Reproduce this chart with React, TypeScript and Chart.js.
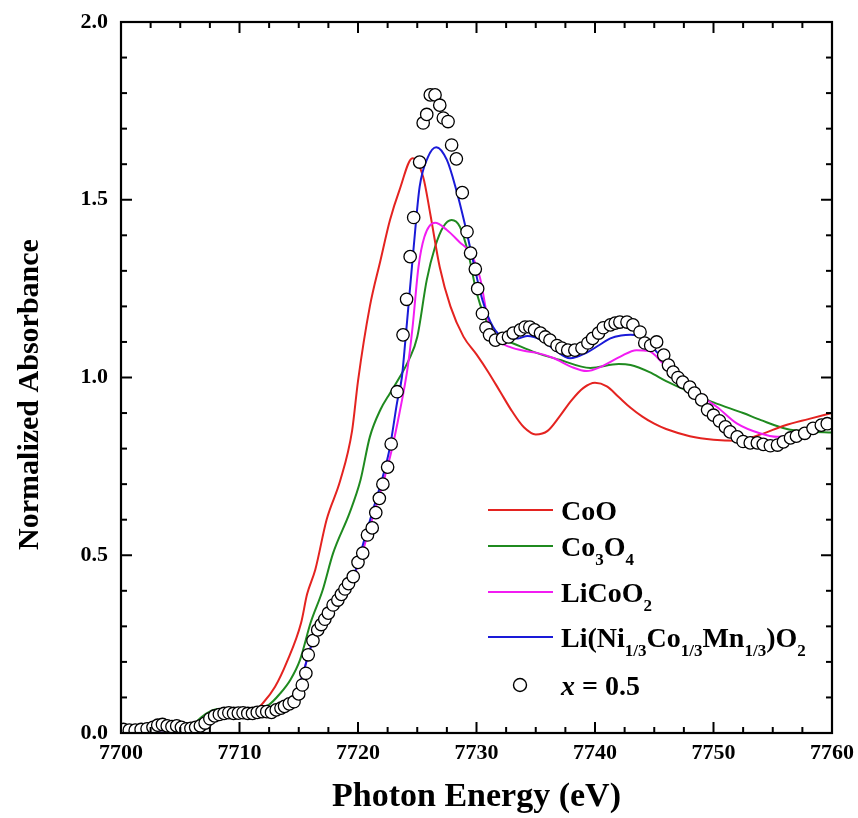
import React, { useEffect, useRef } from "react";
import { Chart, registerables } from "chart.js";

Chart.register(...registerables);

const FONT = "'Liberation Serif', 'Times New Roman', serif";

// ---- axis ticks ----
const xTickValues = [7700, 7710, 7720, 7730, 7740, 7750, 7760];
const yTickValues = [0, 0.5, 1.0, 1.5, 2.0];
const xMinorStep = 2.5;
const yMinorStep = 0.1;
const xTitle = "Photon Energy (eV)";
const yTitle = "Normalized Absorbance";

// ---- CoO ----
const cooE = [7700, 7703, 7706, 7707.5, 7709, 7711, 7712, 7713, 7714, 7715.2, 7715.7, 7716.4, 7717.35, 7718.5, 7719.5, 7720, 7721, 7721.9, 7722.7, 7723.5, 7724.6, 7725.5, 7726.1, 7726.9, 7727.8, 7728.9, 7730, 7731, 7732, 7733, 7734, 7735, 7736, 7737, 7738, 7739, 7740, 7741, 7742, 7743, 7744, 7745, 7746, 7748, 7750, 7752, 7754, 7756, 7758, 7760];
const cooA = [0.005, 0.008, 0.012, 0.03, 0.045, 0.055, 0.085, 0.13, 0.2, 0.31, 0.39, 0.46, 0.6, 0.71, 0.85, 0.99, 1.2, 1.33, 1.443, 1.527, 1.617, 1.564, 1.46, 1.31, 1.2, 1.115, 1.065, 1.015, 0.96, 0.905, 0.86, 0.84, 0.85, 0.89, 0.935, 0.97, 0.985, 0.975, 0.945, 0.915, 0.89, 0.87, 0.855, 0.835, 0.825, 0.822, 0.84, 0.865, 0.883, 0.9];

// ---- Co3O4 ----
const co3o4E = [7700, 7704, 7706, 7706.8, 7707.8, 7709, 7711, 7712.5, 7713.4, 7714.3, 7715.1, 7716, 7717, 7717.9, 7719.3, 7720.2, 7721, 7721.9, 7722.7, 7723.5, 7724.3, 7725, 7725.8, 7726.5, 7727.2, 7727.9, 7728.6, 7729.3, 7730, 7730.7, 7731.5, 7732, 7733, 7735, 7737, 7739.6, 7742, 7743, 7744.6, 7746, 7748.3, 7750, 7752.5, 7754, 7756.2, 7758, 7760];
const co3o4A = [0.005, 0.008, 0.02, 0.045, 0.065, 0.068, 0.065, 0.08, 0.11, 0.15, 0.205, 0.31, 0.4, 0.506, 0.62, 0.71, 0.833, 0.91, 0.956, 1.0, 1.05, 1.114, 1.274, 1.367, 1.424, 1.443, 1.424, 1.35, 1.24, 1.17, 1.12, 1.11, 1.097, 1.07, 1.05, 1.027, 1.038, 1.035, 1.015, 0.99, 0.955, 0.93, 0.9, 0.88, 0.855, 0.848, 0.845];

// ---- LiCoO2 ----
const licoo2E = [7700, 7706, 7708, 7711, 7713, 7714, 7715, 7716, 7717, 7718, 7719, 7720, 7721, 7722, 7722.8, 7723.5, 7724.2, 7724.6, 7725.1, 7725.6, 7726.5, 7727.5, 7728.6, 7729.5, 7730.3, 7731, 7732, 7732.8, 7734, 7735, 7736.5, 7738, 7739.3, 7740.5, 7742.1, 7743.5, 7744.5, 7746, 7748, 7750.3, 7752, 7753.9, 7755.4, 7757, 7758.5, 7760];
const licoo2A = [0.005, 0.015, 0.05, 0.055, 0.065, 0.08, 0.13, 0.24, 0.32, 0.37, 0.41, 0.47, 0.58, 0.69, 0.79, 0.9, 1.03, 1.14, 1.31, 1.395, 1.435, 1.415, 1.38, 1.35, 1.28, 1.16, 1.1, 1.086, 1.075, 1.07, 1.055, 1.03, 1.018, 1.03, 1.058, 1.077, 1.075, 1.03, 0.97, 0.917, 0.87, 0.843, 0.833, 0.835, 0.85, 0.865];

// ---- Li(Ni1/3Co1/3Mn1/3)O2 ----
const nmcE = [7700, 7706, 7708, 7711, 7713, 7714, 7715, 7716, 7717, 7718, 7719, 7719.5, 7720, 7720.5, 7721.2, 7722, 7722.7, 7723.3, 7723.7, 7724, 7724.7, 7725.2, 7725.9, 7726.6, 7727.5, 7728.3, 7729, 7729.7, 7730.5, 7731.4, 7732.3, 7733.5, 7734.3, 7735.5, 7736.5, 7737.9, 7739.3, 7740.3, 7741.3, 7742.2, 7743, 7744.1, 7745, 7746, 7747, 7748, 7749, 7750, 7751, 7752, 7753, 7754, 7755, 7756, 7757, 7758, 7759, 7760];
const nmcA = [0.005, 0.015, 0.05, 0.055, 0.065, 0.08, 0.13, 0.24, 0.32, 0.37, 0.41, 0.43, 0.48, 0.54, 0.62, 0.71, 0.805, 0.93, 1.0, 1.105, 1.367, 1.536, 1.62, 1.648, 1.612, 1.527, 1.434, 1.33, 1.218, 1.142, 1.114, 1.11, 1.117, 1.105, 1.08, 1.054, 1.07, 1.09, 1.11, 1.118, 1.12, 1.11, 1.08, 1.04, 1.0, 0.97, 0.935, 0.895, 0.86, 0.832, 0.818, 0.812, 0.81, 0.815, 0.83, 0.845, 0.86, 0.87];

// ---- x = 0.5 sample (open circles) ----
const sampleE = [7700.2, 7700.7, 7701.2, 7701.7, 7702.2, 7702.7, 7703.1, 7703.5, 7703.9, 7704.3, 7704.7, 7705.1, 7705.5, 7705.9, 7706.3, 7706.7, 7707.1, 7707.5, 7707.9, 7708.3, 7708.7, 7709.1, 7709.5, 7709.9, 7710.3, 7710.7, 7711.1, 7711.5, 7711.9, 7712.3, 7712.7, 7713.1, 7713.5, 7713.8, 7714.2, 7714.6, 7715.0, 7715.3, 7715.6, 7715.8, 7716.2, 7716.6, 7716.9, 7717.2, 7717.5, 7717.9, 7718.3, 7718.6, 7718.9, 7719.2, 7719.6, 7720.0, 7720.4, 7720.8, 7721.2, 7721.5, 7721.8, 7722.1, 7722.5, 7722.8, 7723.3, 7723.8, 7724.1, 7724.4, 7724.7, 7725.2, 7725.5, 7725.8, 7726.1, 7726.5, 7726.9, 7727.2, 7727.6, 7727.9, 7728.3, 7728.8, 7729.2, 7729.5, 7729.9, 7730.1, 7730.5, 7730.8, 7731.1, 7731.6, 7732.2, 7732.7, 7733.1, 7733.7, 7734.1, 7734.5, 7734.9, 7735.4, 7735.8, 7736.2, 7736.8, 7737.2, 7737.7, 7738.3, 7738.9, 7739.4, 7739.8, 7740.3, 7740.7, 7741.3, 7741.7, 7742.1, 7742.7, 7743.2, 7743.8, 7744.2, 7744.7, 7745.2, 7745.8, 7746.2, 7746.6, 7747.0, 7747.4, 7748.0, 7748.4, 7749.0, 7749.5, 7750.0, 7750.5, 7751.0, 7751.4, 7752.0, 7752.5, 7753.1, 7753.7, 7754.2, 7754.8, 7755.4, 7755.9, 7756.5, 7757.0, 7757.7, 7758.4, 7759.1, 7759.6];
const sampleA = [0.01, 0.008, 0.008, 0.01, 0.012, 0.016, 0.022, 0.024, 0.02, 0.018, 0.02, 0.016, 0.012, 0.013, 0.016, 0.02, 0.028, 0.04, 0.048, 0.052, 0.055, 0.057, 0.055, 0.056, 0.057, 0.055, 0.055, 0.058, 0.06, 0.06, 0.058, 0.065, 0.07, 0.075, 0.082, 0.088, 0.11, 0.135, 0.168, 0.22, 0.26, 0.29, 0.305, 0.32, 0.337, 0.36, 0.374, 0.39, 0.405, 0.42, 0.44, 0.48, 0.506, 0.557, 0.577, 0.62, 0.66, 0.7, 0.748, 0.813, 0.96, 1.12, 1.22, 1.34, 1.45, 1.606, 1.716, 1.74, 1.795, 1.795, 1.766, 1.73, 1.72, 1.654, 1.615, 1.52, 1.41, 1.35, 1.305, 1.25, 1.18, 1.14, 1.12, 1.105, 1.11, 1.114, 1.125, 1.134, 1.142, 1.142, 1.134, 1.125, 1.114, 1.105, 1.09, 1.083, 1.077, 1.077, 1.083, 1.097, 1.11, 1.125, 1.14, 1.148, 1.153, 1.156, 1.156, 1.148, 1.128, 1.097, 1.09, 1.1, 1.063, 1.035, 1.015, 1.0, 0.987, 0.973, 0.956, 0.937, 0.909, 0.894, 0.878, 0.861, 0.847, 0.833, 0.82, 0.816, 0.816, 0.812, 0.808, 0.81, 0.819, 0.83, 0.835, 0.843, 0.857, 0.866, 0.87];

const seriesNames = ["CoO", "Co3O4", "LiCoO2", "Li(Ni1/3Co1/3Mn1/3)O2", "x = 0.5"];
const seriesColors = ["#e42320", "#1f8a1f", "#f21cf2", "#1a1ad8", "#000000"];

const toPts = (xs: number[], ys: number[]) => xs.map((x, i) => ({ x, y: ys[i] }));

type Part = { t: string; sub?: boolean; italic?: boolean };
const legendRows: Part[][] = [
  [{ t: "CoO" }],
  [{ t: "Co" }, { t: "3", sub: true }, { t: "O" }, { t: "4", sub: true }],
  [{ t: "LiCoO" }, { t: "2", sub: true }],
  [{ t: "Li(Ni" }, { t: "1/3", sub: true }, { t: "Co" }, { t: "1/3", sub: true }, { t: "Mn" }, { t: "1/3", sub: true }, { t: ")O" }, { t: "2", sub: true }],
  [{ t: "x", italic: true }, { t: " = 0.5" }],
];

const framePlugin = {
  id: "frameTicks",
  afterDatasetsDraw(chart: any) {
    const { ctx, chartArea: a, scales } = chart;
    const xs = scales.x;
    const ys = scales.y;
    ctx.save();
    ctx.strokeStyle = "#000";
    ctx.lineWidth = 2;
    ctx.lineCap = "butt";
    const seg = (x1: number, y1: number, x2: number, y2: number) => {
      ctx.beginPath();
      ctx.moveTo(x1, y1);
      ctx.lineTo(x2, y2);
      ctx.stroke();
    };
    const x0 = xTickValues[0];
    const x1 = xTickValues[xTickValues.length - 1];
    const nx = Math.round((x1 - x0) / xMinorStep);
    for (let i = 0; i <= nx; i++) {
      const v = x0 + i * xMinorStep;
      const major = xTickValues.some((t) => Math.abs(t - v) < 1e-6);
      const len = major ? 11 : 6;
      const px = xs.getPixelForValue(v);
      seg(px, a.bottom, px, a.bottom - len);
      seg(px, a.top, px, a.top + len);
    }
    const y0 = yTickValues[0];
    const y1 = yTickValues[yTickValues.length - 1];
    const ny = Math.round((y1 - y0) / yMinorStep);
    for (let i = 0; i <= ny; i++) {
      const v = y0 + i * yMinorStep;
      const major = yTickValues.some((t) => Math.abs(t - v) < 1e-6);
      const len = major ? 11 : 6;
      const py = ys.getPixelForValue(v);
      seg(a.left, py, a.left + len, py);
      seg(a.right, py, a.right - len, py);
    }
    ctx.lineWidth = 2.2;
    ctx.strokeRect(a.left, a.top, a.right - a.left, a.bottom - a.top);
    ctx.restore();
  },
};

const titlePlugin = {
  id: "yTitle",
  afterDraw(chart: any) {
    const { ctx, chartArea: a } = chart;
    ctx.save();
    ctx.translate(30, (a.top + a.bottom) / 2 + 17);
    ctx.rotate(-Math.PI / 2);
    ctx.font = `bold 30px ${FONT}`;
    ctx.fillStyle = "#000";
    ctx.textAlign = "center";
    ctx.textBaseline = "middle";
    ctx.fillText(yTitle, 0, 0);
    ctx.restore();
  },
};

const legendPlugin = {
  id: "richLegend",
  afterDraw(chart: any) {
    const { ctx, chartArea: a } = chart;
    const lineX0 = a.left + 367;
    const lineX1 = a.left + 432;
    const textX = a.left + 440;
    const rowY = [a.top + 488, a.top + 524, a.top + 570, a.top + 615, a.top + 663];
    ctx.save();
    const mainFont = (it?: boolean) => `${it ? "italic " : ""}bold 28px ${FONT}`;
    const subFont = `bold 17px ${FONT}`;
    legendRows.forEach((parts, i) => {
      const y = rowY[i];
      if (i < 4) {
        ctx.strokeStyle = seriesColors[i];
        ctx.lineWidth = 2;
        ctx.beginPath();
        ctx.moveTo(lineX0, y);
        ctx.lineTo(lineX1, y);
        ctx.stroke();
      } else {
        ctx.beginPath();
        ctx.arc(a.left + 399, y, 6.5, 0, Math.PI * 2);
        ctx.fillStyle = "#fff";
        ctx.fill();
        ctx.strokeStyle = "#000";
        ctx.lineWidth = 1.4;
        ctx.stroke();
      }
      let x = textX;
      const base = y + 10;
      ctx.fillStyle = "#000";
      ctx.textBaseline = "alphabetic";
      ctx.textAlign = "left";
      parts.forEach((p) => {
        ctx.font = p.sub ? subFont : mainFont(p.italic);
        const by = p.sub ? base + 9 : base;
        ctx.fillText(p.t, x, by);
        x += ctx.measureText(p.t).width;
      });
    });
    ctx.restore();
  },
};

export default function App() {
  const canvasRef = useRef<HTMLCanvasElement | null>(null);

  useEffect(() => {
    if (!canvasRef.current) return;
    const lineDs = (i: number, xs: number[], ys: number[], order: number) => ({
      label: seriesNames[i],
      data: toPts(xs, ys),
      borderColor: seriesColors[i],
      backgroundColor: seriesColors[i],
      borderWidth: 2,
      pointRadius: 0,
      cubicInterpolationMode: "monotone" as const,
      fill: false,
      order,
    });
    const chart = new Chart(canvasRef.current, {
      type: "line",
      data: {
        datasets: [
          {
            label: seriesNames[4],
            data: toPts(sampleE, sampleA),
            showLine: false,
            pointRadius: 6.2,
            pointBackgroundColor: "#ffffff",
            pointBorderColor: "#000000",
            pointBorderWidth: 1.3,
            order: 0,
          } as any,
          lineDs(3, nmcE, nmcA, 1),
          lineDs(2, licoo2E, licoo2A, 2),
          lineDs(0, cooE, cooA, 3),
          lineDs(1, co3o4E, co3o4A, 4),
        ],
      },
      options: {
        responsive: false,
        animation: false,
        layout: { padding: { left: 0, top: 22, right: 26, bottom: 0 } },
        plugins: { legend: { display: false }, tooltip: { enabled: false } },
        scales: {
          x: {
            type: "linear",
            min: 7700,
            max: 7760,
            grid: { display: false, drawTicks: false },
            border: { display: false },
            afterBuildTicks: (s: any) => {
              s.ticks = xTickValues.map((v) => ({ value: v }));
            },
            afterFit: (s: any) => {
              s.height = 85;
              s.paddingLeft = 0;
              s.paddingRight = 0;
            },
            ticks: {
              color: "#000",
              padding: 7,
              maxRotation: 0,
              autoSkip: false,
              font: { family: FONT, size: 22, weight: "bold" },
              callback: (v: any) => String(v),
            },
            title: {
              display: true,
              text: xTitle,
              color: "#000",
              font: { family: FONT, size: 34, weight: "bold" },
              padding: { top: 0, bottom: 0 },
            },
          },
          y: {
            type: "linear",
            min: 0,
            max: 2,
            grid: { display: false, drawTicks: false },
            border: { display: false },
            afterBuildTicks: (s: any) => {
              s.ticks = yTickValues.map((v) => ({ value: v }));
            },
            afterFit: (s: any) => {
              s.width = 121;
              s.paddingTop = 0;
              s.paddingBottom = 0;
            },
            ticks: {
              color: "#000",
              padding: 13,
              font: { family: FONT, size: 22, weight: "bold" },
              callback: (v: any) => Number(v).toFixed(1),
            },
            title: { display: false },
          },
        },
      } as any,
      plugins: [framePlugin, titlePlugin, legendPlugin],
    });
    return () => chart.destroy();
  }, []);

  return (
    <div style={{ position: "absolute", left: 0, top: 0, width: 858, height: 818, background: "#fff" }}>
      <canvas ref={canvasRef} width={858} height={818} style={{ display: "block" }} />
    </div>
  );
}
